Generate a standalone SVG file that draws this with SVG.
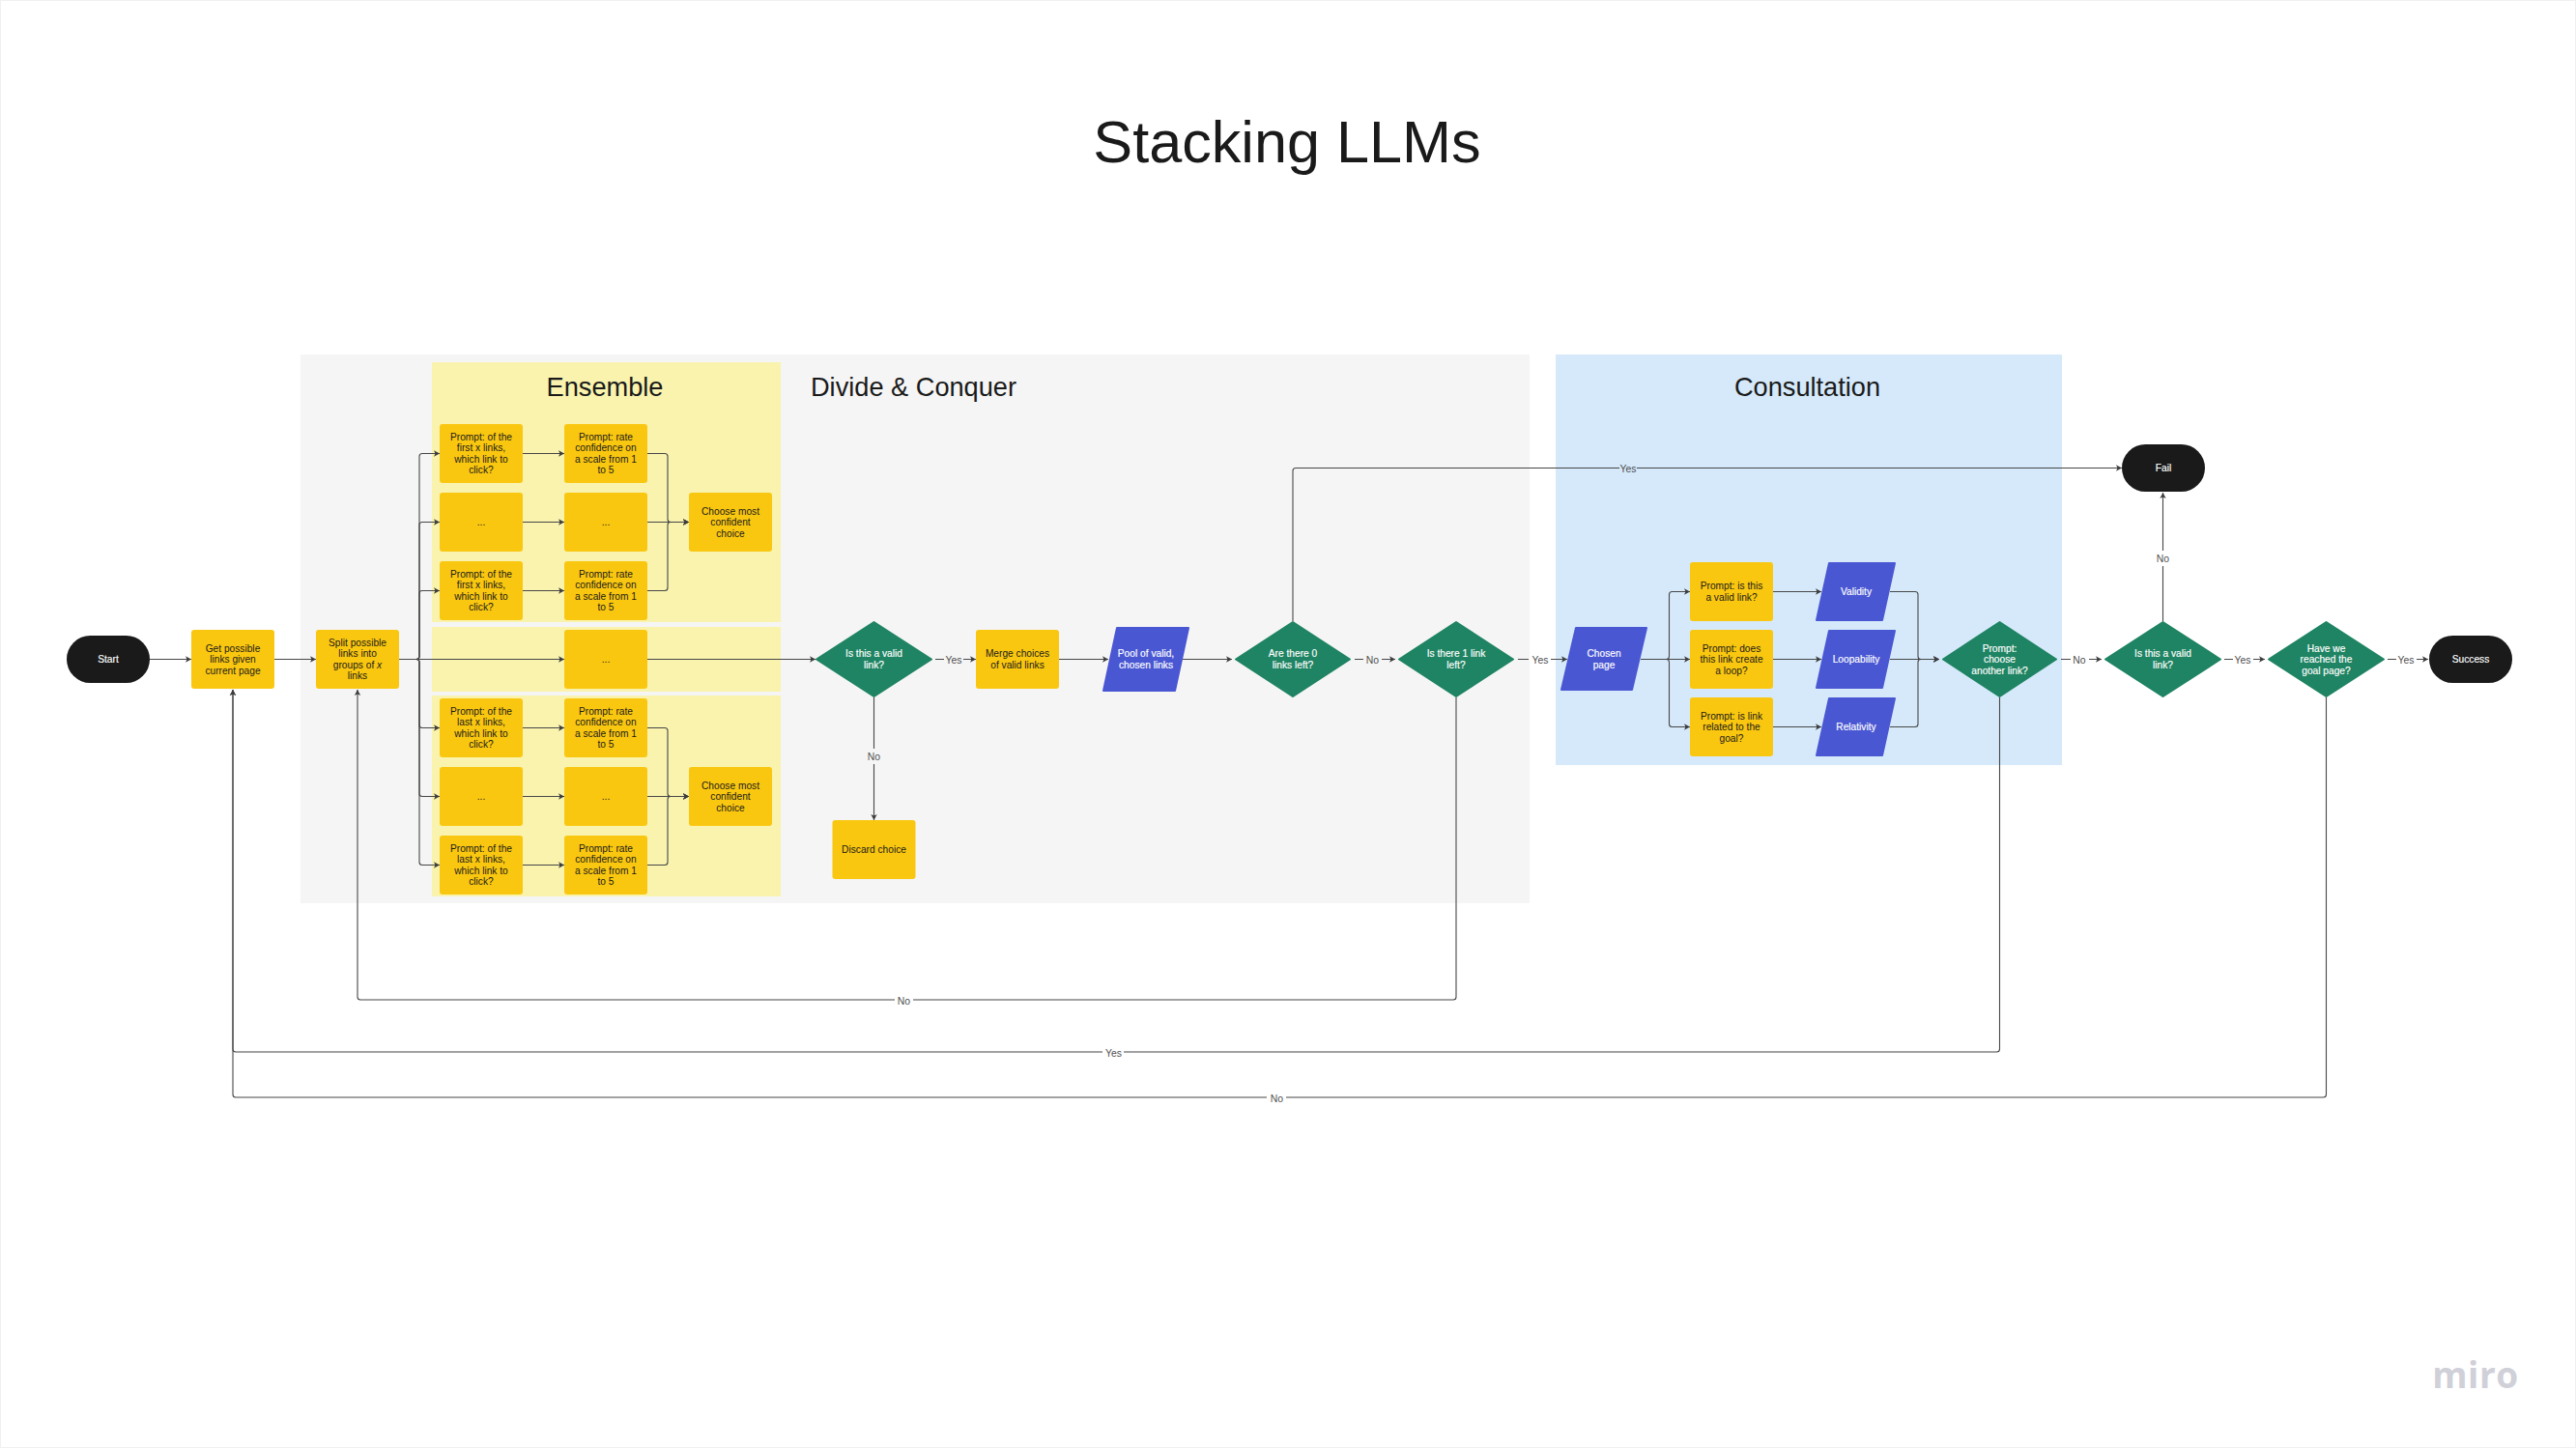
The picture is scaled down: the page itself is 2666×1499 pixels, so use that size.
<svg xmlns="http://www.w3.org/2000/svg" width="2666" height="1499" viewBox="0 0 2666 1499">
<defs>
<style>
text{font-family:"Liberation Sans",Arial,sans-serif;text-anchor:middle}
.t{font-size:10.2px;fill:#1a1a1a}
.w{font-size:10.2px;fill:#fff;stroke:#fff;stroke-width:.15px}
.l{font-size:10.4px;fill:#4f4f4f}
.h{font-size:27.2px;fill:#1a1a1a}
.y{fill:#fac710}
.g{fill:#1f8463;stroke:#1f8463;stroke-width:2;stroke-linejoin:round}
.b{fill:#4a57d3;stroke:#4a57d3;stroke-width:2;stroke-linejoin:round}
.k{fill:#1a1a1a}
.c{fill:none;stroke:#474747;stroke-width:1.1;marker-end:url(#a)}
</style>
<marker id="a" markerUnits="userSpaceOnUse" markerWidth="8" markerHeight="8" refX="6.5" refY="4" orient="auto"><path d="M0.5 .8L6.5 4L.5 7.2L2 4Z" fill="#3c3c3c"/></marker>
</defs>
<rect width="2666" height="1499" fill="#fff"/>
<rect x=".5" y=".5" width="2665" height="1498" fill="none" stroke="#f0f0f0"/>
<text x="1332" y="168" style="font-size:61.2px;fill:#1a1a1a">Stacking LLMs</text>
<g id="frames">
<rect x="311" y="367" width="1272" height="568" fill="#f5f5f5"/>
<rect x="447" y="375" width="361" height="269" fill="#f9f3ae"/>
<rect x="447" y="649" width="361" height="67" fill="#f9f3ae"/>
<rect x="447" y="720" width="361" height="208" fill="#f9f3ae"/>
<rect x="1610" y="367" width="524" height="425" fill="#d5e9fa"/>
<text class="h" x="626" y="410">Ensemble</text>
<text class="h" x="945.5" y="410">Divide &amp; Conquer</text>
<text class="h" x="1870.5" y="410">Consultation</text>
</g>
<g id="connectors">
<path class="c" d="M155 682.5H198"/>
<path class="c" d="M284 682.5H327"/>
<path class="c" d="M413 682.5H431Q434 682.5 434 679.5V472.5Q434 469.5 437 469.5H455"/>
<path class="c" d="M413 682.5H431Q434 682.5 434 679.5V543.5Q434 540.5 437 540.5H455"/>
<path class="c" d="M413 682.5H431Q434 682.5 434 679.5V614.5Q434 611.5 437 611.5H455"/>
<path class="c" d="M413 682.5H431Q434 682.5 434 685.5V750.5Q434 753.5 437 753.5H455"/>
<path class="c" d="M413 682.5H431Q434 682.5 434 685.5V821.5Q434 824.5 437 824.5H455"/>
<path class="c" d="M413 682.5H431Q434 682.5 434 685.5V892.5Q434 895.5 437 895.5H455"/>
<path class="c" d="M413 682.5H584"/>
<path class="c" d="M670 682.5H844"/>
<path class="c" d="M541 469.5H584"/>
<path class="c" d="M541 540.5H584"/>
<path class="c" d="M541 611.5H584"/>
<path class="c" d="M541 753.5H584"/>
<path class="c" d="M541 824.5H584"/>
<path class="c" d="M541 895.5H584"/>
<path class="c" d="M670 469.5H688Q691 469.5 691 472.5V537.5Q691 540.5 694 540.5H713"/>
<path class="c" d="M670 540.5H713"/>
<path class="c" d="M670 611.5H688Q691 611.5 691 608.5V543.5Q691 540.5 694 540.5H713"/>
<path class="c" d="M670 753.5H688Q691 753.5 691 756.5V821.5Q691 824.5 694 824.5H713"/>
<path class="c" d="M670 824.5H713"/>
<path class="c" d="M670 895.5H688Q691 895.5 691 892.5V827.5Q691 824.5 694 824.5H713"/>
<path class="c" d="M968 682.5H977M997 682.5H1010"/>
<text class="l" x="987" y="687">Yes</text>
<path class="c" d="M904.5 722V775M904.5 791V849"/>
<text class="l" x="904.5" y="787">No</text>
<path class="c" d="M1096 682.5H1147"/>
<path class="c" d="M1224 682.5H1275"/>
<path class="c" d="M1402 682.5H1411M1430 682.5H1444"/>
<text class="l" x="1420.5" y="687">No</text>
<path class="c" d="M1571 682.5H1582M1605 682.5H1622"/>
<text class="l" x="1594" y="687">Yes</text>
<path class="c" d="M1698 682.5H1724.5Q1727.5 682.5 1727.5 679.5V615.5Q1727.5 612.5 1730.5 612.5H1749"/>
<path class="c" d="M1698 682.5H1749"/>
<path class="c" d="M1698 682.5H1724.5Q1727.5 682.5 1727.5 685.5V749.5Q1727.5 752.5 1730.5 752.5H1749"/>
<path class="c" d="M1835 612.5H1885"/>
<path class="c" d="M1835 682.5H1885"/>
<path class="c" d="M1835 752.5H1885"/>
<path class="c" d="M1956 612.5H1982Q1985 612.5 1985 615.5V679.5Q1985 682.5 1988 682.5H2007"/>
<path class="c" d="M1956 682.5H2007"/>
<path class="c" d="M1956 752.5H1982Q1985 752.5 1985 749.5V685.5Q1985 682.5 1988 682.5H2007"/>
<path class="c" d="M2133 682.5H2143M2162 682.5H2175"/>
<text class="l" x="2152" y="687">No</text>
<path class="c" d="M2302 682.5H2311M2332 682.5H2344"/>
<text class="l" x="2321" y="687">Yes</text>
<path class="c" d="M2471 682.5H2480M2501 682.5H2513"/>
<text class="l" x="2490" y="687">Yes</text>
<path class="c" d="M2238.5 643V586M2238.5 570V510"/>
<text class="l" x="2238.5" y="581.5">No</text>
<path class="c" d="M1338 643V487.5Q1338 484.5 1341 484.5H1676M1694 484.5H2196"/>
<text class="l" x="1685" y="488.5">Yes</text>
<path class="c" d="M1507 722V1032Q1507 1035 1504 1035H945M926 1035H373Q370 1035 370 1032V714"/>
<text class="l" x="935.5" y="1039.5">No</text>
<path class="c" d="M2069.5 722V1086Q2069.5 1089 2066.5 1089H1163M1141 1089H244Q241 1089 241 1086V714"/>
<text class="l" x="1152.5" y="1093.5">Yes</text>
<path class="c" d="M2407.5 722V1133Q2407.5 1136 2404.5 1136H1331M1311 1136H244Q241 1136 241 1133V714"/>
<text class="l" x="1321.5" y="1140.5">No</text>
</g>
<g id="start"><rect class="k" x="69" y="658" width="86" height="49" rx="24.5"/><text class="w" x="112" y="686">Start</text></g>
<g id="get-links"><rect class="y" x="198" y="652" width="86" height="61" rx="3"/><text class="t" x="241" y="675">Get possible<tspan x="241" y="686.3">links given</tspan><tspan x="241" y="697.6">current page</tspan></text></g>
<g id="split"><rect class="y" x="327" y="652" width="86" height="61" rx="3"/><text class="t" x="370" y="669">Split possible<tspan x="370" y="680.4">links into</tspan><tspan x="370" y="691.8">groups of <tspan font-style="italic">x</tspan></tspan><tspan x="370" y="703">links</tspan></text></g>
<g id="p1a"><rect class="y" x="455" y="439" width="86" height="61" rx="3"/><text class="t" x="498" y="456">Prompt: of the<tspan x="498" y="467.4">first x links,</tspan><tspan x="498" y="478.8">which link to</tspan><tspan x="498" y="490">click?</tspan></text></g>
<g id="p1b"><rect class="y" x="455" y="510" width="86" height="61" rx="3"/><text class="t" x="498" y="543.5">...</text></g>
<g id="p1c"><rect class="y" x="455" y="581" width="86" height="61" rx="3"/><text class="t" x="498" y="598">Prompt: of the<tspan x="498" y="609.4">first x links,</tspan><tspan x="498" y="620.8">which link to</tspan><tspan x="498" y="632">click?</tspan></text></g>
<g id="r1a"><rect class="y" x="584" y="439" width="86" height="61" rx="3"/><text class="t" x="627" y="456">Prompt: rate<tspan x="627" y="467.4">confidence on</tspan><tspan x="627" y="478.8">a scale from 1</tspan><tspan x="627" y="490">to 5</tspan></text></g>
<g id="r1b"><rect class="y" x="584" y="510" width="86" height="61" rx="3"/><text class="t" x="627" y="543.5">...</text></g>
<g id="r1c"><rect class="y" x="584" y="581" width="86" height="61" rx="3"/><text class="t" x="627" y="598">Prompt: rate<tspan x="627" y="609.4">confidence on</tspan><tspan x="627" y="620.8">a scale from 1</tspan><tspan x="627" y="632">to 5</tspan></text></g>
<g id="c1"><rect class="y" x="713" y="510" width="86" height="61" rx="3"/><text class="t" x="756" y="533">Choose most<tspan x="756" y="544.3">confident</tspan><tspan x="756" y="555.6">choice</tspan></text></g>
<g id="mid"><rect class="y" x="584" y="652" width="86" height="61" rx="3"/><text class="t" x="627" y="685.5">...</text></g>
<g id="p2a"><rect class="y" x="455" y="723" width="86" height="61" rx="3"/><text class="t" x="498" y="740">Prompt: of the<tspan x="498" y="751.4">last x links,</tspan><tspan x="498" y="762.8">which link to</tspan><tspan x="498" y="774">click?</tspan></text></g>
<g id="p2b"><rect class="y" x="455" y="794" width="86" height="61" rx="3"/><text class="t" x="498" y="827.5">...</text></g>
<g id="p2c"><rect class="y" x="455" y="865" width="86" height="61" rx="3"/><text class="t" x="498" y="882">Prompt: of the<tspan x="498" y="893.4">last x links,</tspan><tspan x="498" y="904.8">which link to</tspan><tspan x="498" y="916">click?</tspan></text></g>
<g id="r2a"><rect class="y" x="584" y="723" width="86" height="61" rx="3"/><text class="t" x="627" y="740">Prompt: rate<tspan x="627" y="751.4">confidence on</tspan><tspan x="627" y="762.8">a scale from 1</tspan><tspan x="627" y="774">to 5</tspan></text></g>
<g id="r2b"><rect class="y" x="584" y="794" width="86" height="61" rx="3"/><text class="t" x="627" y="827.5">...</text></g>
<g id="r2c"><rect class="y" x="584" y="865" width="86" height="61" rx="3"/><text class="t" x="627" y="882">Prompt: rate<tspan x="627" y="893.4">confidence on</tspan><tspan x="627" y="904.8">a scale from 1</tspan><tspan x="627" y="916">to 5</tspan></text></g>
<g id="c2"><rect class="y" x="713" y="794" width="86" height="61" rx="3"/><text class="t" x="756" y="817">Choose most<tspan x="756" y="828.3">confident</tspan><tspan x="756" y="839.6">choice</tspan></text></g>
<g id="valid1"><polygon class="g" points="845,682.5 904.5,644 964,682.5 904.5,721"/><text class="w" x="904.5" y="680">Is this a valid<tspan x="904.5" y="692">link?</tspan></text></g>
<g id="merge"><rect class="y" x="1010" y="652" width="86" height="61" rx="3"/><text class="t" x="1053" y="680">Merge choices<tspan x="1053" y="691.8">of valid links</tspan></text></g>
<g id="discard"><rect class="y" x="861.5" y="849" width="86" height="61" rx="3"/><text class="t" x="904.5" y="883">Discard choice</text></g>
<g id="pool"><polygon class="b" points="1156,650 1230,650 1216,715 1142,715"/><text class="w" x="1186" y="680">Pool of valid,<tspan x="1186" y="691.8">chosen links</tspan></text></g>
<g id="zero"><polygon class="g" points="1279,682.5 1338,644 1397,682.5 1338,721"/><text class="w" x="1338" y="680">Are there 0<tspan x="1338" y="692">links left?</tspan></text></g>
<g id="one"><polygon class="g" points="1448,682.5 1507,644 1566,682.5 1507,721"/><text class="w" x="1507" y="680">Is there 1 link<tspan x="1507" y="692">left?</tspan></text></g>
<g id="chosen"><polygon class="b" points="1631,650 1704,650 1689,714 1616,714"/><text class="w" x="1660" y="680">Chosen<tspan x="1660" y="692">page</tspan></text></g>
<g id="q1"><rect class="y" x="1749" y="582" width="86" height="61" rx="3"/><text class="t" x="1792" y="610">Prompt: is this<tspan x="1792" y="621.8">a valid link?</tspan></text></g>
<g id="q2"><rect class="y" x="1749" y="652" width="86" height="61" rx="3"/><text class="t" x="1792" y="675">Prompt: does<tspan x="1792" y="686.3">this link create</tspan><tspan x="1792" y="697.6">a loop?</tspan></text></g>
<g id="q3"><rect class="y" x="1749" y="722" width="86" height="61" rx="3"/><text class="t" x="1792" y="745">Prompt: is link<tspan x="1792" y="756.3">related to the</tspan><tspan x="1792" y="767.6">goal?</tspan></text></g>
<g id="validity"><polygon class="b" points="1893,583 1961,583 1948,642 1880,642"/><text class="w" x="1921" y="616">Validity</text></g>
<g id="loopability"><polygon class="b" points="1893,653 1961,653 1948,712 1880,712"/><text class="w" x="1921" y="686">Loopability</text></g>
<g id="relativity"><polygon class="b" points="1893,723 1961,723 1948,782 1880,782"/><text class="w" x="1921" y="756">Relativity</text></g>
<g id="another"><polygon class="g" points="2011,682.5 2069.5,644 2128,682.5 2069.5,721"/><text class="w" x="2069.5" y="675">Prompt:<tspan x="2069.5" y="686.3">choose</tspan><tspan x="2069.5" y="697.6">another link?</tspan></text></g>
<g id="valid2"><polygon class="g" points="2179,682.5 2238.5,644 2298,682.5 2238.5,721"/><text class="w" x="2238.5" y="680">Is this a valid<tspan x="2238.5" y="692">link?</tspan></text></g>
<g id="goal"><polygon class="g" points="2348,682.5 2407.5,644 2467,682.5 2407.5,721"/><text class="w" x="2407.5" y="675">Have we<tspan x="2407.5" y="686.3">reached the</tspan><tspan x="2407.5" y="697.6">goal page?</tspan></text></g>
<g id="fail"><rect class="k" x="2196" y="460" width="86" height="49" rx="24.5"/><text class="w" x="2239" y="488">Fail</text></g>
<g id="success"><rect class="k" x="2514" y="658" width="86" height="49" rx="24.5"/><text class="w" x="2557" y="686">Success</text></g>
<text x="2562" y="1437" style="font-size:37px;font-family:'Open Sans',sans-serif;font-weight:700;fill:#d0d0d8;letter-spacing:.6px">miro</text>
</svg>
